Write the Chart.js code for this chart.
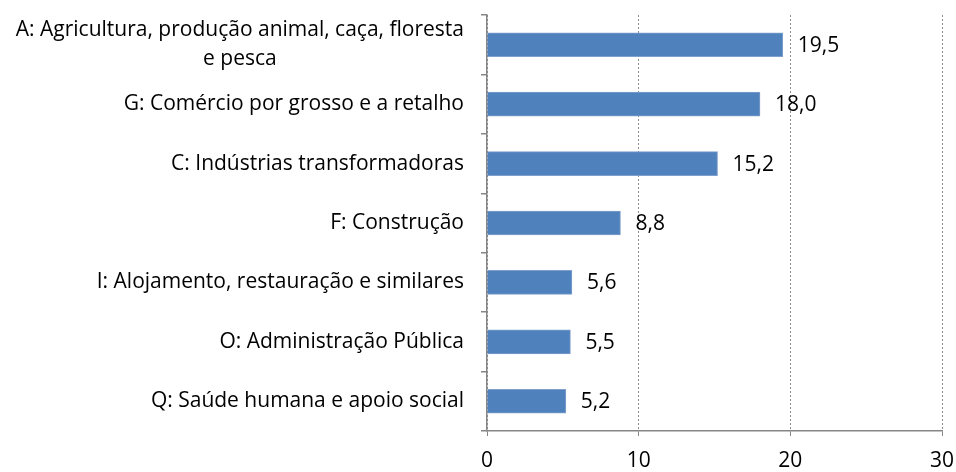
<!DOCTYPE html>
<html>
<head>
  <meta charset="utf-8">
  <title>Setores de atividade</title>
  <script src="https://cdn.jsdelivr.net/npm/chart.js"></script>
  <style>
    body { margin: 0; background: #fff; }
    .wrap { width: 956px; height: 472px; position: relative; }
  </style>
</head>
<body>
  <div class="wrap"><canvas id="chart"></canvas></div>
  <script>
    // categories (top to bottom) and values
    const categories = [
      ['A: Agricultura, produção animal, caça, floresta', 'e pesca'],
      ['G: Comércio por grosso e a retalho'],
      ['C: Indústrias transformadoras'],
      ['F: Construção'],
      ['I: Alojamento, restauração e similares'],
      ['O: Administração Pública'],
      ['Q: Saúde humana e apoio social']
    ];
    const values = [19.5, 18.0, 15.2, 8.8, 5.6, 5.5, 5.2];
    const xTicks = [0, 10, 20, 30];

    const FONT = '"Open Sans", sans-serif';
    const FSIZE = 21;

    // draws the category labels (centred lines) and the value labels
    const labelPlugin = {
      id: 'labels',
      afterDraw(chart) {
        const ctx = chart.ctx;
        const y = chart.scales.y;
        const x = chart.scales.x;
        ctx.save();
        ctx.font = FSIZE + 'px ' + FONT;
        ctx.fillStyle = '#000';
        ctx.textBaseline = 'middle';
        categories.forEach((lines, i) => {
          const cy = y.getPixelForValue(i);
          const lh = 29;
          const widths = lines.map(l => ctx.measureText(l).width);
          const w = Math.max(...widths);
          const right = 464;
          lines.forEach((l, j) => {
            const ly = cy + (j - (lines.length - 1) / 2) * lh;
            ctx.textAlign = 'center';
            ctx.fillText(l, right - w / 2, ly);
          });
        });
        ctx.textAlign = 'left';
        values.forEach((v, i) => {
          const px = x.getPixelForValue(v);
          ctx.fillText(v.toFixed(1).replace('.', ','), px + 15, y.getPixelForValue(i) + 1);
        });
        ctx.restore();
      }
    };

    new Chart(document.getElementById('chart'), {
      type: 'bar',
      data: {
        labels: categories.map(c => c.join(' ')),
        datasets: [{
          data: values,
          backgroundColor: '#4F81BD',
          borderColor: '#7FA0CC',
          borderWidth: 1,
          barThickness: 24
        }]
      },
      options: {
        indexAxis: 'y',
        responsive: true,
        maintainAspectRatio: false,
        animation: false,
        layout: { padding: { top: 15, right: 14, left: 0, bottom: 0 } },
        plugins: { legend: { display: false }, tooltip: { enabled: false } },
        scales: {
          y: {
            afterFit: s => { s.width = 487; },
            ticks: { display: false },
            grid: { drawOnChartArea: false, drawTicks: true, tickLength: 6, offset: true, color: '#868686', lineWidth: 1.5 },
            border: { color: '#868686', width: 1.5 }
          },
          x: {
            min: 0, max: 30,
            afterFit: s => { s.height = 41; s.paddingLeft = 0; s.paddingRight = 0; },
            afterBuildTicks: s => { s.ticks = xTicks.map(v => ({ value: v })); },
            ticks: { color: '#000', font: { family: FONT, size: FSIZE }, padding: 12 },
            grid: {
              color: '#8c8c8c', tickColor: '#868686', tickLength: 5,
              tickBorderDash: [], lineWidth: 1
            },
            border: { color: '#868686', width: 1.5, dash: [2, 2] }
          }
        }
      },
      plugins: [labelPlugin]
    });
  </script>
</body>
</html>
